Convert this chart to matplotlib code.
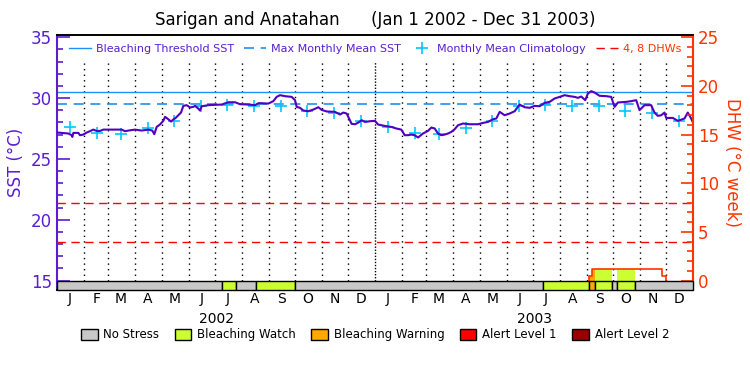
import numpy as np
import pandas as pd
import matplotlib
matplotlib.use("Agg")
import matplotlib.pyplot as plt
import matplotlib.transforms as mtransforms
from matplotlib.lines import Line2D
from matplotlib.patches import Patch

# ---- data (days since Jan 1 2002) ----
sst_days = [0, 5.4, 13.0, 16.8, 17.6, 18.8, 24.5, 26.4, 30.2, 34.1, 37.9, 41.7, 45.5, 49.4,
            53.2, 58.9, 74.2, 78.1, 81.9, 89.5, 97.2, 104.8, 109.4, 111.7, 114.4, 118.2,
            122.0, 124.0, 127.8, 130.9, 133.5, 136.2, 139.3, 142.3, 145.0, 148.8, 152.7,
            156.5, 158.4, 162.2, 164.1, 166.1, 173.7, 189.0, 196.7, 204.3, 210.1, 219.6,
            227.3, 231.1, 234.9, 242.6, 248.3, 252.1, 256.0, 261.7, 269.4, 273.2, 275.1,
            278.9, 282.8, 288.5, 294.3, 300.0, 303.8, 309.6, 319.0, 324.8, 328.6, 332.5,
            338.2, 342.1, 345.9, 349.8, 353.6, 359.3, 365.0, 368.5, 372.3, 378.0, 383.8,
            389.5, 395.2, 399.1, 402.9, 406.7, 410.5, 414.4, 420.1, 425.8, 429.7, 433.5,
            437.3, 441.1, 445.0, 448.8, 452.6, 456.4, 460.3, 466.0, 473.7, 483.2, 488.9,
            494.7, 500.4, 504.2, 508.1, 513.8, 519.5, 525.3, 531.0, 536.7, 542.5, 548.2,
            554.0, 559.7, 565.4, 571.2, 576.9, 582.6, 588.4, 594.1, 597.9, 601.7, 606.3,
            609.4, 613.2, 617.0, 622.7, 630.4, 636.1, 640.0, 643.8, 653.3, 659.1, 664.8,
            668.6, 674.4, 682.0, 685.8, 689.6, 693.5, 697.3, 699.2, 706.8, 712.6, 720.2,
            724.0, 727.9, 730.0]
sst_vals = [27.17, 27.14, 27.09, 26.95, 26.81, 27.14, 27.14, 26.95, 27.00, 27.17, 27.28, 27.41,
            27.30, 27.30, 27.41, 27.41, 27.41, 27.28, 27.33, 27.41, 27.33, 27.41, 27.33,
            27.03, 27.63, 27.83, 28.13, 28.46, 28.26, 28.07, 28.24, 28.37, 28.59, 28.81,
            29.36, 29.42, 29.23, 29.28, 29.36, 29.14, 28.98, 29.33, 29.42, 29.47, 29.66,
            29.66, 29.50, 29.47, 29.42, 29.58, 29.58, 29.55, 29.75, 30.10, 30.24, 30.16,
            30.10, 29.83, 29.28, 29.20, 28.98, 28.92, 29.06, 29.25, 29.03, 28.90, 28.87,
            28.65, 28.81, 28.73, 27.88, 27.85, 27.99, 28.18, 28.04, 28.10, 28.13, 27.83,
            27.77, 27.69, 27.63, 27.50, 27.41, 26.95, 26.95, 27.00, 26.95, 26.76, 27.09,
            27.30, 27.58, 27.50, 27.09, 26.95, 27.00, 27.09, 27.22, 27.44, 27.77, 27.91,
            27.85, 27.85, 27.96, 28.04, 28.26, 28.32, 28.87, 28.59, 28.73, 28.92, 29.47,
            29.25, 29.20, 29.36, 29.33, 29.61, 29.69, 29.97, 30.10, 30.24, 30.16, 30.10,
            30.02, 30.13, 29.83, 30.38, 30.57, 30.46, 30.19, 30.16, 30.10, 29.28, 29.64,
            29.69, 29.75, 29.83, 29.01, 29.42, 29.42, 28.81, 28.54, 28.59, 28.81, 28.37,
            28.37, 28.13, 28.32, 28.81, 28.32, 27.99]

# monthly mean climatology, Jan..Dec
clim = [27.6, 27.16, 27.02, 27.55, 28.15, 29.32, 29.46, 29.35, 29.33, 28.97, 28.8, 28.13]
mmm = 29.5
threshold = 30.52

# degree heating weeks (step)
dhw_days = [0, 611, 614.5, 694.5, 699, 730]
dhw_vals = [0, 0.5, 1.15, 0.5, 0, 0]

# stress level periods: 0 none, 1 watch, 2 warning, 3 alert 1, 4 alert 2
stress_start = [0, 189, 206, 228, 273.5, 558, 611, 618, 637.5, 643, 664]
stress_level = [0, 1, 0, 1, 0, 1, 2, 1, 0, 1, 0]
stress_names = ["No Stress", "Bleaching Watch", "Bleaching Warning", "Alert Level 1", "Alert Level 2"]
stress_colors = ["#c8c8c8", "#ccff33", "#ffaa00", "#ff0000", "#990000"]

month_letters = ["J", "F", "M", "A", "M", "J", "J", "A", "S", "O", "N", "D"]
years = ["2002", "2003"]

purple = "#5a1ed2"
sst_col = "#5000c0"
red = "#ff3300"
blue = "#2090f0"
cyan = "#00c8ff"

t0 = pd.Timestamp("2002-01-01")
mstarts = pd.date_range("2002-01-01", "2003-12-01", freq="MS")
mdays = np.array([(d - t0).days for d in mstarts], dtype=float)
mid = mdays + 14.5
t_end = 730

sst_lo, sst_hi = 14.26, 35.2

fig = plt.figure(figsize=(7.5, 3.75), dpi=100)
ax = fig.add_axes([0.076, 0.228, 0.848, 0.679])
ax2 = ax.twinx()
ax.set_xlim(0, t_end)
ax.set_ylim(sst_lo, sst_hi)
ax2.set_ylim((sst_lo - 15) / 0.8, (sst_hi - 15) / 0.8)

# month grid
for d in mdays[1:]:
    ls = (0, (1, 1.2)) if d == 365 else (0, (1, 3))
    ax.plot([d, d], [15, 33], color="black", lw=1.0, ls=ls, zorder=1)

ax.axhline(threshold, color=blue, lw=1.0, zorder=2)
ax.axhline(mmm, color=blue, lw=1.2, ls=(0, (6, 4)), zorder=2)
ax.plot(mid, clim * 2, ls="none", marker="+", ms=9, mew=1.2, color=cyan, zorder=3)
ax.plot(sst_days, sst_vals, color=sst_col, lw=1.5, zorder=4)

# DHW and stress bar on the right axis
for lev in [4, 8]:
    ax2.axhline(lev, color="#ff0000", lw=1.0, ls=(0, (6, 4)), zorder=1)

stress_end = stress_start[1:] + [t_end]
dd = np.array(dhw_days)
dv = np.array(dhw_vals)
for s, e, lev in zip(stress_start, stress_end, stress_level):
    if lev > 0:
        xs = np.unique(np.r_[s, dd[(dd > s) & (dd < e)], e])
        ys = dv[np.searchsorted(dd, xs, side="right") - 1]
        ax2.fill_between(xs, 0, ys, step="post", color=stress_colors[lev], lw=0, zorder=1)

# only draw the DHW curve where it leaves zero
nz = np.nonzero(dv)[0]
i0, i1 = nz[0], nz[-1] + 1
ax2.plot(np.r_[dd[i0], dd[i0:i1 + 1]], np.r_[0, dv[i0:i1 + 1]], color=red, lw=1.2,
         drawstyle="steps-post", zorder=2)

ybot = ax2.get_ylim()[0]
ax2.bar(stress_start, -ybot, bottom=ybot, width=np.array(stress_end) - np.array(stress_start),
        align="edge", color=[stress_colors[l] for l in stress_level],
        edgecolor="black", lw=1.0, zorder=3, clip_on=False)

# axes styling
ax.spines["left"].set_color(purple)
ax.spines["left"].set_linewidth(1.5)
ax.spines["right"].set_visible(False)
ax2.spines["left"].set_visible(False)
ax2.spines["right"].set_color(red)
ax2.spines["right"].set_linewidth(1.5)
for a in (ax, ax2):
    a.spines["top"].set_linewidth(1.2)
    a.spines["bottom"].set_linewidth(1.2)

ax.set_yticks([15, 20, 25, 30, 35])
ax.set_yticks(np.arange(15, 36, 1), minor=True)
ax.tick_params(axis="y", which="major", direction="in", length=9, width=1.2,
               color=purple, labelcolor=purple, labelsize=12)
ax.tick_params(axis="y", which="minor", direction="in", length=4.5, width=1.2, color=purple)
ax2.set_yticks([0, 5, 10, 15, 20, 25])
ax2.set_yticks(np.arange(0, 26, 1), minor=True)
ax2.tick_params(axis="y", which="major", direction="in", length=9, width=1.2,
                color=red, labelcolor=red, labelsize=12)
ax2.tick_params(axis="y", which="minor", direction="in", length=4.5, width=1.2, color=red)

ax.set_xticks(mid)
ax.set_xticklabels(month_letters * 2)
ax.tick_params(axis="x", length=0, pad=2, labelsize=10)

ax.set_ylabel("SST (°C)", color=purple, fontsize=12, labelpad=4)
ax2.set_ylabel("DHW (°C week)", color=red, fontsize=12, rotation=270, labelpad=16)

trans = mtransforms.blended_transform_factory(ax.transData, ax.transAxes)
for y, c in zip(years, [182.5, 547.5]):
    ax.text(c, -0.115, y, transform=trans, ha="center", va="center", fontsize=10)

fig.text(0.5, 0.947, "Sarigan and Anatahan      (Jan 1 2002 - Dec 31 2003)",
         ha="center", va="center", fontsize=12)

handles = [Line2D([], [], color=blue, lw=1.0),
           Line2D([], [], color=blue, lw=1.2, ls=(0, (6, 4))),
           Line2D([], [], color=cyan, ls="none", marker="+", ms=9, mew=1.2),
           Line2D([], [], color="#ff0000", lw=1.0, ls=(0, (6, 4)))]
labels = ["Bleaching Threshold SST", "Max Monthly Mean SST", "Monthly Mean Climatology", "4, 8 DHWs"]
leg = ax2.legend(handles, labels, loc="upper center", bbox_to_anchor=(0.5, 1.0), ncol=4,
                 frameon=False, fontsize=8, handlelength=2.0, handletextpad=0.4,
                 columnspacing=0.9, borderaxespad=0.4)
for txt, c in zip(leg.get_texts(), [purple, purple, purple, red]):
    txt.set_color(c)

patches = [Patch(facecolor=c, edgecolor="black", lw=1.0) for c in stress_colors]
fig.legend(patches, stress_names, loc="center", bbox_to_anchor=(0.5, 0.107), ncol=5,
           frameon=False, fontsize=8.5, handlelength=1.4, handleheight=1.1,
           handletextpad=0.5, columnspacing=1.3)

fig.savefig("out.png", dpi=100)
